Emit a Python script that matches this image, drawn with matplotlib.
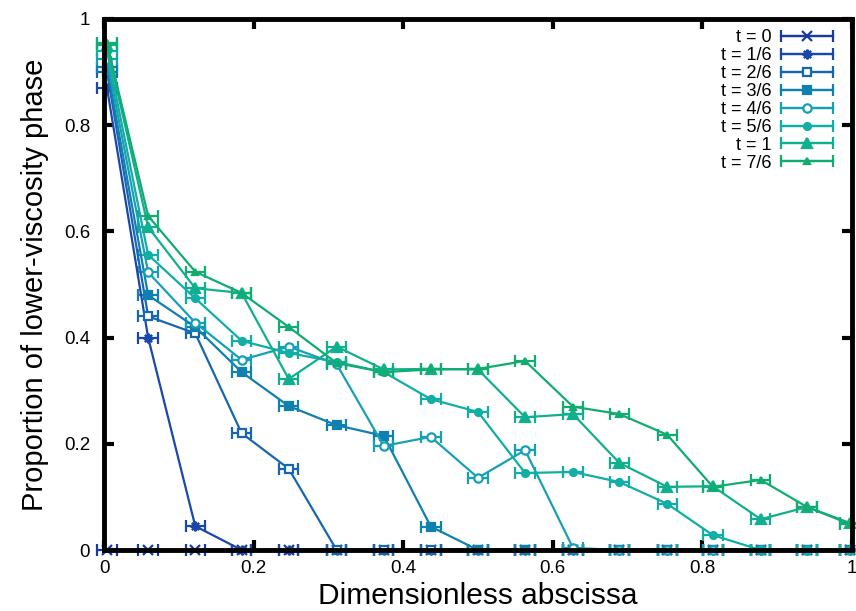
import matplotlib
matplotlib.use("Agg")
import matplotlib.pyplot as plt
from matplotlib.legend_handler import HandlerErrorbar
from matplotlib.container import ErrorbarContainer

plt.rcParams['font.family'] = ['Liberation Sans', 'DejaVu Sans']

# abscissa of the sampling points
x = [0.004, 0.059, 0.122, 0.184, 0.247, 0.311, 0.374, 0.437, 0.500,
     0.563, 0.627, 0.689, 0.753, 0.814, 0.878, 0.940, 0.997]
xerr = 0.013

labels = ["t = 0", "t = 1/6", "t = 2/6", "t = 3/6", "t = 4/6", "t = 5/6", "t = 1", "t = 7/6"]

t0 = [0.0] * 17
t1 = [0.87, 0.40, 0.045, 0, 0, 0, 0, 0, 0, 0, 0, 0, 0, 0, 0, 0, 0]
t2 = [0.90, 0.44, 0.408, 0.22, 0.153, 0, 0, 0, 0, 0, 0, 0, 0, 0, 0, 0, 0]
t3 = [0.91, 0.48, 0.42, 0.335, 0.271, 0.235, 0.215, 0.044, 0, 0, 0, 0, 0, 0, 0, 0, 0]
t4 = [0.925, 0.523, 0.428, 0.358, 0.383, 0.35, 0.196, 0.213, 0.136, 0.188, 0.004,
      0, 0, 0, 0, 0, 0]
t5 = [0.94, 0.556, 0.474, 0.394, 0.371, 0.354, 0.335, 0.284, 0.26, 0.145, 0.147,
      0.128, 0.087, 0.028, 0, 0, 0]
t6 = [0.95, 0.608, 0.493, 0.484, 0.322, 0.383, 0.34, 0.341, 0.34, 0.25, 0.256,
      0.164, 0.119, 0.12, 0.058, 0.081, 0.051]
t7 = [0.955, 0.629, 0.524, 0.484, 0.42, 0.352, 0.335, 0.34, 0.341, 0.356, 0.27,
      0.256, 0.217, 0.119, 0.132, 0.081, 0.049]
series = [t0, t1, t2, t3, t4, t5, t6, t7]

colors = ["#1a3aa3", "#1947aa", "#1766b2", "#0f80b0", "#16a0b5", "#10aea5", "#10b08e", "#10ac70"]
markers = ["x", (8, 2, 0), "s", "s", "o", "o", "^", "^"]
fills = [True, True, False, True, False, True, True, True]
msizes = [7, 7, 6, 6, 6, 5, 7, 4.5]

fig = plt.figure(figsize=(8.56, 6.11), dpi=100)
ax = fig.add_axes([0.1215, 0.0998, 0.8738, 0.8692])

for y, lab, c, m, f, ms in zip(series, labels, colors, markers, fills, msizes):
    cont = ax.errorbar(x, y, xerr=xerr, color=c, marker=m, ms=ms, lw=1.6,
                       mfc=c if f else "white", mec=c, mew=1.6,
                       capsize=4, capthick=1.6, elinewidth=1.6, label=lab)
    arts = [cont.lines[0]] + list(cont.lines[1]) + list(cont.lines[2])
    for art in arts:
        art.set_clip_on(False)

ax.set_xlim(0, 1)
ax.set_ylim(0, 1)
ax.set_xticks([0, 0.2, 0.4, 0.6, 0.8, 1])
ax.set_xticklabels(["0", "0.2", "0.4", "0.6", "0.8", "1"])
ax.set_yticks([0, 0.2, 0.4, 0.6, 0.8, 1])
ax.set_yticklabels(["0", "0.2", "0.4", "0.6", "0.8", "1"])
ax.tick_params(direction="in", length=7, width=3, top=True, right=True, labelsize=13.5)
ax.tick_params(axis="x", pad=7)
ax.tick_params(axis="y", pad=10)
for sp in ax.spines.values():
    sp.set_linewidth(3.5)
    sp.set_zorder(5)

ax.set_xlabel("Dimensionless abscissa", fontsize=21.5, labelpad=4)
ax.set_ylabel("Proportion of lower-viscosity phase", fontsize=21, labelpad=11)

ax.legend(loc="upper right", bbox_to_anchor=(0.996, 1.011), frameon=False,
          markerfirst=False, fontsize=13,
          handlelength=2.85, handletextpad=0.55, labelspacing=0.05, borderaxespad=0.5,
          handler_map={ErrorbarContainer: HandlerErrorbar(xerr_size=1.42)})

fig.savefig("out.png", dpi=100)
